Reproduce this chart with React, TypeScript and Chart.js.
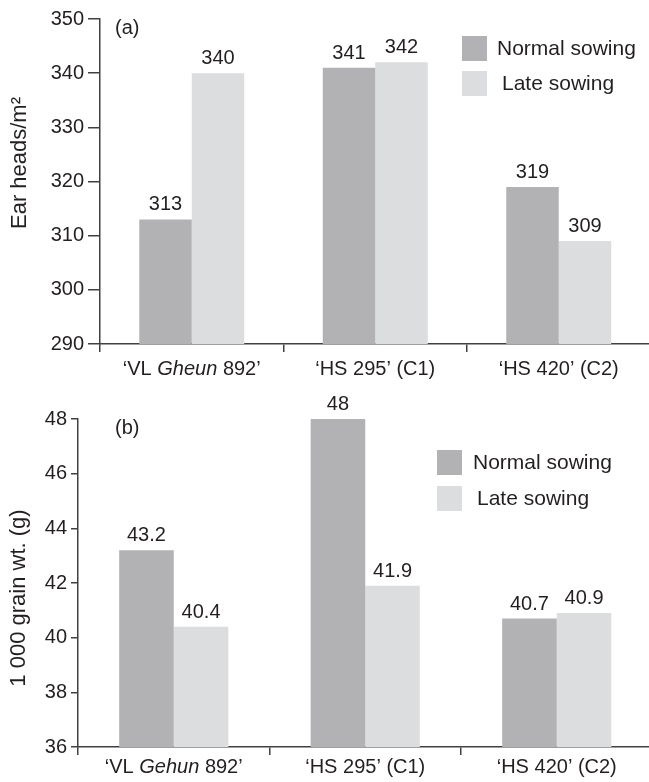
import React, { useEffect, useRef } from "react";
import { Chart, registerables } from "chart.js";
Chart.register(...registerables);

const FONT = "'Liberation Sans', Arial, sans-serif";
const TEXT = "#231f20";
const AXIS = "#404040";

const seriesNames = ["Normal sowing", "Late sowing"];
const seriesColors = ["#b2b2b4", "#dcdddf"];

type Seg = { t: string; i: boolean };

const categoriesA: Seg[][] = [
  [{ t: "\u2018VL ", i: false }, { t: "Gheun", i: true }, { t: " 892\u2019", i: false }],
  [{ t: "\u2018HS 295\u2019 (C1)", i: false }],
  [{ t: "\u2018HS 420\u2019 (C2)", i: false }],
];
const normalA = [313, 341, 319];
const lateA = [340, 342, 309];
const ticksA = [290, 300, 310, 320, 330, 340, 350];

const categoriesB: Seg[][] = [
  [{ t: "\u2018VL ", i: false }, { t: "Gehun", i: true }, { t: " 892\u2019", i: false }],
  [{ t: "\u2018HS 295\u2019 (C1)", i: false }],
  [{ t: "\u2018HS 420\u2019 (C2)", i: false }],
];
const normalB = [43.2, 48, 40.7];
const lateB = [40.4, 41.9, 40.9];
const ticksB = [36, 38, 40, 42, 44, 46, 48];

type PanelCfg = {
  width: number;
  height: number;
  top: number;
  categories: Seg[][];
  normal: number[];
  late: number[];
  ticks: number[];
  yWidth: number;
  xHeight: number;
  padTop: number;
  padRight: number;
  yTickLen: number;
  panelLabel: string;
  panelLabelPos: [number, number];
  yTitle: string;
  yTitlePos: [number, number];
  legendPos: [number, number];
  legendGap: number;
  legendTextOffsets: [number, number];
  catLabelY: number;
  catPct: number;
};

const decorPlugin = {
  id: "decor",
  afterDraw(chart: any, _args: any, o: any) {
    const ctx = chart.ctx;
    ctx.save();
    ctx.fillStyle = TEXT;
    // value labels
    ctx.font = `20px ${FONT}`;
    ctx.textAlign = "center";
    ctx.textBaseline = "alphabetic";
    chart.data.datasets.forEach((ds: any, i: number) => {
      const meta = chart.getDatasetMeta(i);
      meta.data.forEach((bar: any, j: number) => {
        ctx.fillText(String(ds.data[j]), bar.x, bar.y - 9);
      });
    });
    // category labels
    const xs = chart.scales.x;
    ctx.textAlign = "left";
    ctx.textBaseline = "middle";
    o.categories.forEach((segs: Seg[], j: number) => {
      const cx = xs.getPixelForValue(j);
      let total = 0;
      const widths = segs.map((s) => {
        ctx.font = `${s.i ? "italic " : ""}20px ${FONT}`;
        const w = ctx.measureText(s.t).width;
        total += w;
        return w;
      });
      let x = cx - total / 2;
      segs.forEach((s, k) => {
        ctx.font = `${s.i ? "italic " : ""}20px ${FONT}`;
        ctx.fillText(s.t, x, o.catLabelY);
        x += widths[k];
      });
    });
    // legend
    const [lx, ly] = o.legendPos;
    chart.data.datasets.forEach((ds: any, i: number) => {
      const y = ly + i * o.legendGap;
      ctx.fillStyle = ds.backgroundColor;
      ctx.fillRect(lx, y, 25, 25);
      ctx.fillStyle = TEXT;
      ctx.font = `21px ${FONT}`;
      ctx.fillText(ds.label, lx + o.legendTextOffsets[i], y + 13);
    });
    // panel label
    ctx.font = `20px ${FONT}`;
    ctx.fillText(o.panelLabel, o.panelLabelPos[0], o.panelLabelPos[1]);
    // y title
    ctx.translate(o.yTitlePos[0], o.yTitlePos[1]);
    ctx.rotate(-Math.PI / 2);
    ctx.textAlign = "center";
    ctx.textBaseline = "middle";
    ctx.font = `22px ${FONT}`;
    ctx.fillText(o.yTitle, 0, 0);
    ctx.restore();
  },
};

function Panel({ cfg }: { cfg: PanelCfg }) {
  const ref = useRef<HTMLCanvasElement | null>(null);
  useEffect(() => {
    if (!ref.current) return;
    const chart = new Chart(ref.current, {
      type: "bar",
      data: {
        labels: cfg.categories.map((segs) => segs.map((s) => s.t).join("")),
        datasets: [
          { label: seriesNames[0], data: cfg.normal, backgroundColor: seriesColors[0], categoryPercentage: cfg.catPct, barPercentage: 1 },
          { label: seriesNames[1], data: cfg.late, backgroundColor: seriesColors[1], categoryPercentage: cfg.catPct, barPercentage: 1 },
        ],
      },
      options: {
        responsive: false,
        animation: false,
        devicePixelRatio: 1,
        layout: { padding: { top: cfg.padTop, right: cfg.padRight, left: 0, bottom: 0 } },
        plugins: {
          legend: { display: false },
          tooltip: { enabled: false },
          decor: cfg,
        } as any,
        scales: {
          x: {
            grid: { offset: true, drawOnChartArea: false, tickLength: 8, color: AXIS, lineWidth: 1.5 },
            border: { color: AXIS, width: 1.5 },
            ticks: { display: false },
            afterFit: (s: any) => {
              s.height = cfg.xHeight;
            },
          },
          y: {
            min: cfg.ticks[0],
            max: cfg.ticks[cfg.ticks.length - 1],
            grid: { drawOnChartArea: false, tickLength: cfg.yTickLen, color: AXIS, lineWidth: 1.5 },
            border: { color: AXIS, width: 1.5 },
            ticks: { color: TEXT, font: { size: 20, family: FONT }, padding: 4 },
            afterBuildTicks: (s: any) => {
              s.ticks = cfg.ticks.map((v) => ({ value: v }));
            },
            afterFit: (s: any) => {
              s.width = cfg.yWidth;
            },
          },
        },
      },
      plugins: [decorPlugin],
    } as any);
    return () => chart.destroy();
  }, [cfg]);
  return (
    <canvas
      ref={ref}
      width={cfg.width}
      height={cfg.height}
      style={{ position: "absolute", left: 0, top: cfg.top, width: cfg.width, height: cfg.height }}
    />
  );
}

const cfgA: PanelCfg = {
  width: 655,
  height: 386,
  top: 0,
  categories: categoriesA,
  normal: normalA,
  late: lateA,
  ticks: ticksA,
  yWidth: 100,
  xHeight: 42,
  padTop: 19,
  padRight: 4.5,
  yTickLen: 12,
  panelLabel: "(a)",
  panelLabelPos: [115, 28],
  yTitle: "Ear heads/m\u00b2",
  yTitlePos: [20, 163],
  legendPos: [462, 36],
  legendGap: 35,
  legendTextOffsets: [35, 40],
  catLabelY: 369,
  catPct: 0.572,
};

const cfgB: PanelCfg = {
  width: 655,
  height: 407,
  top: 375,
  categories: categoriesB,
  normal: normalB,
  late: lateB,
  ticks: ticksB,
  yWidth: 78,
  xHeight: 35,
  padTop: 44,
  padRight: 2.5,
  yTickLen: 7,
  panelLabel: "(b)",
  panelLabelPos: [115, 53],
  yTitle: "1 000 grain wt. (g)",
  yTitlePos: [19, 223],
  legendPos: [437, 75],
  legendGap: 36,
  legendTextOffsets: [36, 40],
  catLabelY: 392,
  catPct: 0.57,
};

export default function App() {
  return (
    <div
      style={{
        position: "absolute",
        left: 0,
        top: 0,
        width: 649,
        height: 782,
        overflow: "hidden",
        background: "#fff",
      }}
    >
      <Panel cfg={cfgA} />
      <Panel cfg={cfgB} />
    </div>
  );
}
